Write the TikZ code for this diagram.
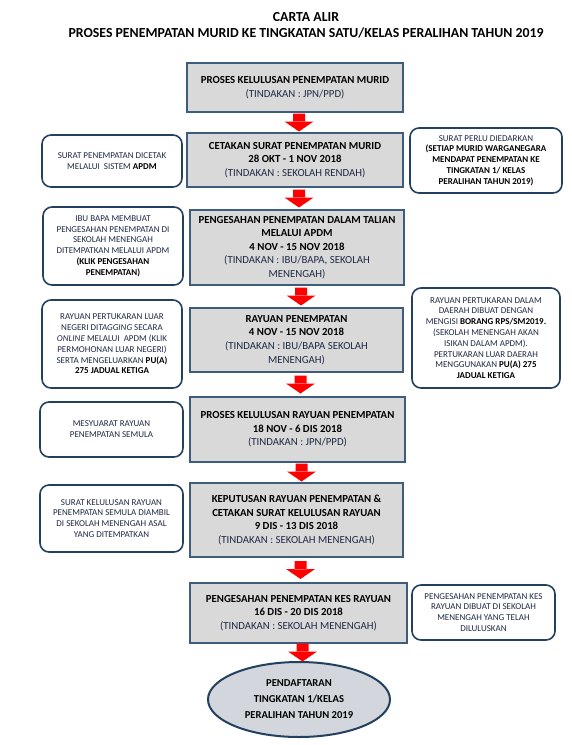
\documentclass[tikz,border=0pt]{standalone}
\usepackage{fontspec}
\setmainfont{Carlito}
\usetikzlibrary{calc,shapes.geometric}
\definecolor{boxfill}{HTML}{D9D9D9}
\definecolor{boxline}{HTML}{3E5C7E}
\definecolor{sideline}{HTML}{23405F}
\definecolor{txtnavy}{HTML}{1F2A44}
\definecolor{arrowblue}{HTML}{3F64A0}
\definecolor{ellfill}{HTML}{D3D6DC}
\newcommand\bk[1]{\textbf{\color{black}#1}}
\newcommand\act[1]{{\mdseries\color{txtnavy}#1}}
\newcommand\flowarrow[2]{%
  \path let \p1=(#1.south), \p2=(#2.north), \n1={(\y1+\y2)/2}, \n2={\x1+4pt} in
    [draw=arrowblue, line width=1.2pt, fill=red, line join=miter]
    (\n2+14.5pt,\n1+1pt) -- (\n2,\n1-9pt) -- (\n2-14.5pt,\n1+1pt) -- cycle
    [fill=red, draw=none] (\n2-6pt,\n1+9pt) rectangle (\n2+6pt,\n1+0.4pt);}
\tikzset{
  mainbox/.style={draw=boxline, line width=2pt, fill=boxfill, inner sep=0pt, align=center,
    font=\bfseries\fontsize{10.8}{13.6}\selectfont, text=black},
  sidebox/.style={draw=sideline, line width=1.6pt, fill=white, rounded corners=9pt, inner sep=0pt,
    align=center, font=\fontsize{9}{10.8}\selectfont, text=txtnavy},
  endell/.style={ellipse, draw=sideline, line width=2pt, fill=ellfill, inner sep=0pt, align=center,
    font=\bfseries\fontsize{10.6}{16}\selectfont},
  titletext/.style={font=\bfseries\fontsize{13.8}{16}\selectfont, align=center, inner sep=0pt}
}
\begin{document}
\begin{tikzpicture}[x=1pt,y=-1pt]
\useasboundingbox (0,0) rectangle (571,745);
\node[titletext] (title) at (306,25.5) {CARTA ALIR\\PROSES PENEMPATAN MURID KE TINGKATAN SATU/KELAS PERALIHAN TAHUN 2019};

% main flow
\node[mainbox, minimum width=216pt, minimum height=49pt] (b1) at (295,87.5)
  {PROSES KELULUSAN PENEMPATAN MURID\\\act{(TINDAKAN : JPN/PPD)}};
\node[mainbox, minimum width=216pt, minimum height=54pt] (b2) at (295,160)
  {CETAKAN SURAT PENEMPATAN MURID\\28 OKT - 1 NOV 2018\\\act{(TINDAKAN : SEKOLAH RENDAH)}};
\node[mainbox, minimum width=214pt, minimum height=75pt] (b3) at (297,247.5)
  {PENGESAHAN PENEMPATAN DALAM TALIAN\\MELALUI APDM\\4 NOV - 15 NOV 2018\\\act{(TINDAKAN : IBU/BAPA, SEKOLAH}\\\act{MENENGAH)}};
\node[mainbox, minimum width=213pt, minimum height=64pt] (b4) at (296.5,340)
  {RAYUAN PENEMPATAN\\4 NOV - 15 NOV 2018\\\act{(TINDAKAN : IBU/BAPA SEKOLAH}\\\act{MENENGAH)}};
\node[mainbox, minimum width=215pt, minimum height=65pt] (b5) at (297.5,429.5)
  {PROSES KELULUSAN RAYUAN PENEMPATAN\\18 NOV - 6 DIS 2018\\\act{(TINDAKAN : JPN/PPD)}};
\node[mainbox, minimum width=213pt, minimum height=74pt] (b6) at (296.5,520)
  {KEPUTUSAN RAYUAN PENEMPATAN \&\\CETAKAN SURAT KELULUSAN RAYUAN\\9 DIS - 13 DIS 2018\\\act{(TINDAKAN : SEKOLAH MENENGAH)}};
\node[mainbox, minimum width=217pt, minimum height=60pt] (b7) at (298.5,613)
  {PENGESAHAN PENEMPATAN KES RAYUAN\\16 DIS - 20 DIS 2018\\\act{(TINDAKAN : SEKOLAH MENENGAH)}};
\node[endell, minimum width=182pt, minimum height=75pt] (e) at (299,699.5)
  {PENDAFTARAN\\TINGKATAN 1/KELAS\\PERALIHAN TAHUN 2019};

% side notes
\node[sidebox, minimum width=140pt, minimum height=52pt] (l1) at (112,161)
  {SURAT PENEMPATAN DICETAK\\MELALUI\ \ SISTEM \bk{APDM}};
\node[sidebox, minimum width=140pt, minimum height=78pt] (l2) at (113,246)
  {IBU BAPA MEMBUAT\\PENGESAHAN PENEMPATAN DI\\SEKOLAH MENENGAH\\DITEMPATKAN MELALUI APDM\\\bk{(KLIK PENGESAHAN}\\\bk{PENEMPATAN)}};
\node[sidebox, minimum width=140pt, minimum height=88pt] (l3) at (112,344)
  {RAYUAN PERTUKARAN LUAR\\NEGERI DI\textit{TAGGING} SECARA\\\textit{ONLINE} MELALUI\ \ APDM (KLIK\\PERMOHONAN LUAR NEGERI)\\SERTA MENGELUARKAN \bk{PU(A)}\\\bk{275 JADUAL KETIGA}};
\node[sidebox, minimum width=143pt, minimum height=55pt] (l4) at (111.5,429.5)
  {MESYUARAT RAYUAN\\PENEMPATAN SEMULA};
\node[sidebox, minimum width=143pt, minimum height=67pt] (l5) at (111.5,518.5)
  {SURAT KELULUSAN RAYUAN\\PENEMPATAN SEMULA DIAMBIL\\DI SEKOLAH MENENGAH ASAL\\YANG DITEMPATKAN};
\node[sidebox, minimum width=152pt, minimum height=65pt] (r1) at (486,160.5)
  {SURAT PERLU DIEDARKAN\\\bk{(SETIAP MURID WARGANEGARA}\\\bk{MENDAPAT PENEMPATAN KE}\\\bk{TINGKATAN 1/ KELAS}\\\bk{PERALIHAN TAHUN 2019)}};
\node[sidebox, minimum width=148pt, minimum height=100pt] (r2) at (486,338)
  {RAYUAN PERTUKARAN DALAM\\DAERAH DIBUAT DENGAN\\MENGISI \bk{BORANG RPS/SM2019.}\\(SEKOLAH MENENGAH AKAN\\ISIKAN DALAM APDM).\\PERTUKARAN LUAR DAERAH\\MENGGUNAKAN \bk{PU(A) 275}\\\bk{JADUAL KETIGA}};
\node[sidebox, minimum width=143pt, minimum height=55pt] (r3) at (483.5,612.5)
  {PENGESAHAN PENEMPATAN KES\\RAYUAN DIBUAT DI SEKOLAH\\MENENGAH YANG TELAH\\DILULUSKAN};

% block arrows
\flowarrow{b1}{b2}
\flowarrow{b2}{b3}
\flowarrow{b3}{b4}
\flowarrow{b4}{b5}
\flowarrow{b5}{b6}
\flowarrow{b6}{b7}
\flowarrow{b7}{e}
\end{tikzpicture}
\end{document}
